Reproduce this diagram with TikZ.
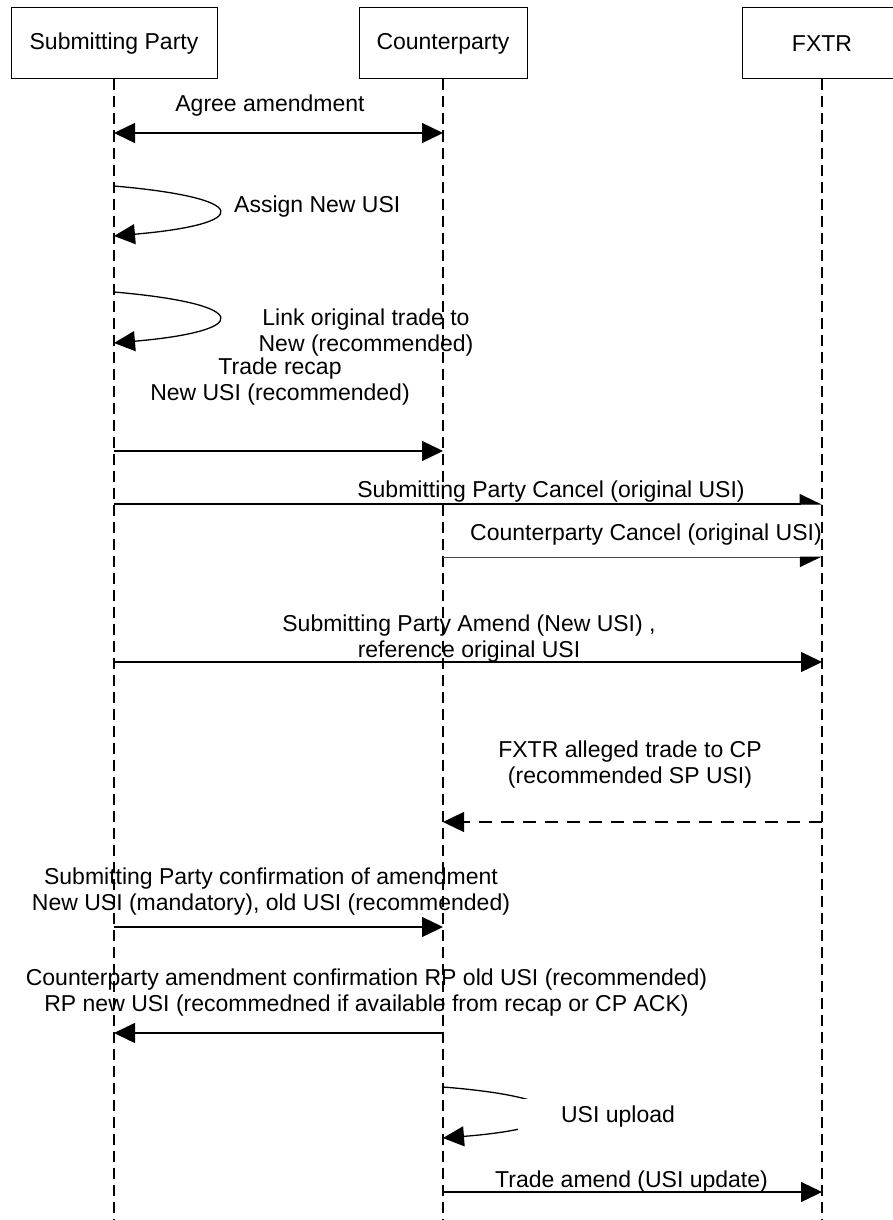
\documentclass[tikz,border=0pt]{standalone}
\usepackage{fontspec}
\setmainfont{Liberation Sans}
\usetikzlibrary{arrows.meta}
\begin{document}
\begin{tikzpicture}[x=1pt,y=-1pt,
  font=\fontsize{23pt}{26pt}\selectfont,
  actor/.style={draw, line width=1pt, minimum height=71pt, inner sep=0pt},
  lifeline/.style={line width=1.3pt, dash pattern=on 11pt off 6pt},
  msg/.style={line width=1.3pt, -{Triangle[length=21pt,width=20pt]}},
  bothmsg/.style={line width=1.3pt, {Triangle[length=21pt,width=20pt]}-{Triangle[length=21pt,width=20pt]}},
  msgtext/.style={inner sep=0pt, align=center},
]
\useasboundingbox (0,0) rectangle (892,1220);

% participants
\node[actor, minimum width=206pt] (sp) at (114,43.5) {Submitting Party};
\node[actor, minimum width=168pt] (cp) at (443,43.5) {Counterparty};
\node[actor, minimum width=160pt] (fx) at (822,43.5) {FXTR};
\coordinate (bottom) at (0,1220);

% lifelines
\draw[lifeline] (sp.south) -- (sp.south |- bottom);
\draw[lifeline] (cp.south) -- (cp.south |- bottom);
\draw[lifeline] (fx.south) -- (fx.south |- bottom);

% agree amendment
\node[msgtext] (m1) at (270,106) {Agree amendment};
\draw[bothmsg] (sp |- 0,133) -- (cp |- 0,133);

% assign new USI (self message)
\draw[msg] (sp |- 0,186) .. controls (253,198) and (253,224) .. (sp |- 0,236);
\node[msgtext, anchor=west] (m2) at (234,207) {Assign New USI};

% link original trade (self message)
\draw[msg] (sp |- 0,292) .. controls (253,304) and (253,331) .. (sp |- 0,343);
\node[msgtext] (m3) at (366,332.5) {Link original trade to\\New (recommended)};

% trade recap
\node[msgtext] (m4) at (280,381.5) {Trade recap\\New USI (recommended)};
\draw[msg] (sp |- 0,451) -- (cp |- 0,451);

% submitting party cancel
\node[msgtext] (m5) at (551,492) {Submitting Party Cancel (original USI)};
\draw[line width=1.3pt, -{Triangle[harpoon,length=21pt,width=20pt]}] (sp |- 0,504) -- (fx |- 0,504);

% counterparty cancel
\node[msgtext] (m6) at (646,535) {Counterparty Cancel (original USI)};
\draw[line width=1pt, black!70, -{Triangle[harpoon,swap,length=21pt,width=20pt,black]}] (cp |- 0,557) -- (fx |- 0,557);

% submitting party amend
\node[msgtext] (m7) at (469,638.5) {Submitting Party Amend (New USI) ,\\reference original USI};
\draw[msg] (sp |- 0,662) -- (fx |- 0,662);

% alleged trade to counterparty
\node[msgtext] (m8) at (630,764.5) {FXTR alleged trade to CP\\(recommended SP USI)};
\draw[msg, dash pattern=on 13pt off 9pt] (fx |- 0,822) -- (cp |- 0,822);

% submitting party confirmation
\node[msgtext] (m9) at (271,892) {Submitting Party confirmation of amendment\\New USI (mandatory), old USI (recommended)};
\draw[msg] (sp |- 0,927) -- (cp |- 0,927);

% counterparty confirmation
\node[msgtext] (m10) at (366.5,993) {Counterparty amendment confirmation RP old USI (recommended)\\RP new USI (recommedned if available from recap or CP ACK)};
\draw[msg] (cp |- 0,1033) -- (sp |- 0,1033);

% USI upload (self message)
\draw[msg] (cp |- 0,1087) .. controls (583,1098) and (583,1127) .. (cp |- 0,1138);
\node[msgtext, fill=white, minimum width=200pt, minimum height=36pt] (m11) at (618,1117) {USI upload};

% trade amend
\node[msgtext] (m12) at (631.5,1182) {Trade amend (USI update)};
\draw[msg] (cp |- 0,1192) -- (fx |- 0,1192);
\end{tikzpicture}
\end{document}
